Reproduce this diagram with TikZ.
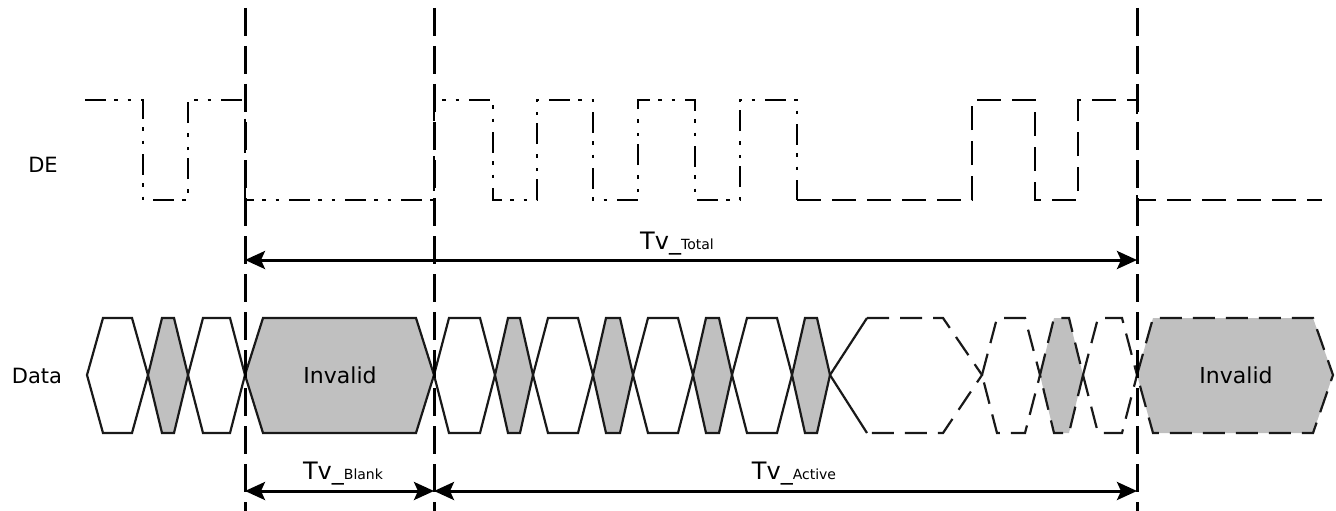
\documentclass[tikz,border=0pt]{standalone}
\usepackage{fontspec}
\setmainfont{DejaVu Sans}
\usetikzlibrary{arrows.meta}
\definecolor{cellgrey}{RGB}{192,192,192}
\tikzset{
  sig/.style={line width=2.7pt, dash pattern=on 21pt off 8pt on 3.5pt off 10pt on 3.5pt off 10pt},
  sigdash/.style={line width=2.7pt, dash pattern=on 24pt off 11pt},
  guide/.style={line width=3pt, dash pattern=on 28pt off 10pt},
  cell/.style={draw=black!90, line width=2.2pt, line join=miter},
  greycell/.style={cell, fill=cellgrey},
  dashcell/.style={cell, dash pattern=on 22pt off 11pt},
  span/.style={line width=3pt, {Stealth[length=20pt,width=18pt,inset=4pt]}-{Stealth[length=20pt,width=18pt,inset=4pt]}},
  lbl/.style={font=\fontsize{21}{24}\selectfont, inner sep=0pt},
}
% one hexagon of the data bus: [style]{left x}{right x}{slope}
\newcommand\datacell[4][cell]{%
  \draw[#1] (#2,375) -- (#2+#4,318) -- (#3-#4,318) -- (#3,375) -- (#3-#4,433) -- (#2+#4,433) -- cycle;}
\newcommand\tvlabel[1]{{\fontsize{24}{26}\selectfont Tv\_}{\fontsize{14}{16}\selectfont #1}}

\begin{document}
\begin{tikzpicture}[x=1pt,y=-1pt,line cap=butt]
\useasboundingbox (0,0) rectangle (1336,511);
%% DE
\draw[sig] (85,100) -- (143,100) -- (143,200) -- (188,200) -- (188,100) -- (245,100) -- (245,200)
  -- (434,200) -- (434,100) -- (493,100) -- (493,200) -- (537,200) -- (537,100) -- (593,100)
  -- (593,200) -- (638,200) -- (638,100) -- (695,100) -- (695,200) -- (740,200) -- (740,100)
  -- (797,100) -- (797,200);
\draw[sigdash] (797,200) -- (972,200) -- (972,100) -- (1035,100) -- (1035,200) -- (1078,200)
  -- (1078,100) -- (1137,100) -- (1137,200) -- (1322,200);
%% Data
\datacell{87}{148}{16}
\datacell[greycell]{148}{188}{14}
\datacell{188}{245}{15}
\datacell[greycell]{245}{434}{18}
\datacell{434}{495}{15}
\datacell[greycell]{495}{533}{13}
\datacell{533}{593}{15}
\datacell[greycell]{593}{633}{13}
\datacell{633}{693}{15}
\datacell[greycell]{693}{732}{13}
\datacell{732}{792}{15}
\datacell[greycell]{792}{830}{13}
\draw[cell] (867,318) -- (830,375) -- (867,433);
\draw[dashcell] (867,318) -- (943,318) -- (982,375) -- (943,433) -- (867,433);
\datacell[dashcell]{982}{1040}{15}
\datacell[dashcell,fill=cellgrey]{1040}{1083}{14}
\datacell[dashcell]{1083}{1137}{15}
\draw[dashcell,fill=cellgrey] (1137,375) -- (1153,318) -- (1313,318) -- (1333,375) -- (1313,433) -- (1153,433) -- cycle;
%% guides
\coordinate (g1t) at (245,8);   \coordinate (g1b) at (245,511);
\coordinate (g2t) at (434,8);   \coordinate (g2b) at (434,511);
\coordinate (g3t) at (1137,8);  \coordinate (g3b) at (1137,511);
\draw[guide] (g1t) -- (g1b);
\draw[guide] (g2t) -- (g2b);
\draw[guide] (g3t) -- (g3b);
\coordinate (tot_l) at (245,260);  \coordinate (tot_r) at (1137,260);
\coordinate (blk_l) at (245,491);  \coordinate (blk_r) at (434,491);
\coordinate (act_r) at (1137,491);
\draw[span] (tot_l) -- (tot_r);
\draw[span] (blk_l) -- (blk_r);
\draw[span] (blk_r) -- (act_r);
%% labels
\node[lbl] (de) at (43,165) {DE};
\node[lbl] (data) at (37,376) {Data};
\node[lbl,font=\fontsize{22}{26}\selectfont] (inv_a) at (340,375) {Invalid};
\node[lbl,font=\fontsize{22}{26}\selectfont] (inv_b) at (1236,375) {Invalid};
\node[lbl,anchor=base] (tv_total) at (677,249) {\tvlabel{Total}};
\node[lbl,anchor=base] (tv_blank) at (343,479) {\tvlabel{Blank}};
\node[lbl,anchor=base] (tv_active) at (794,479) {\tvlabel{Active}};
\end{tikzpicture}
\end{document}
